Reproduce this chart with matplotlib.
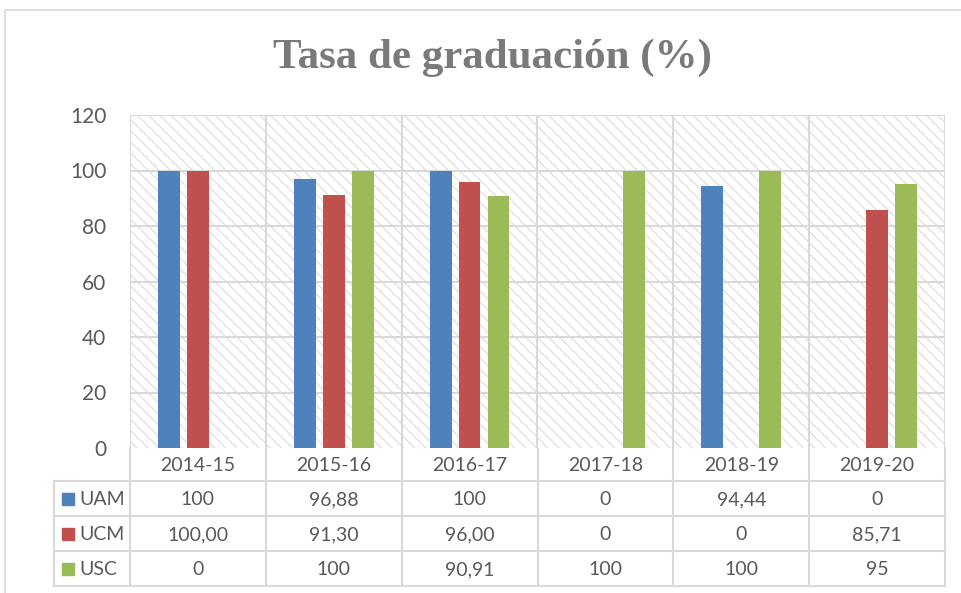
import matplotlib
matplotlib.use('Agg')
import matplotlib.pyplot as plt
from matplotlib.patches import Rectangle
import numpy as np

cursos = ['2014-15', '2015-16', '2016-17', '2017-18', '2018-19', '2019-20']
uam = [100, 96.88, 100, 0, 94.44, 0]
ucm = [100.00, 91.30, 96.00, 0, 0, 85.71]
usc = [0, 100, 90.91, 100, 100, 95]
uam_txt = ['100', '96,88', '100', '0', '94,44', '0']
ucm_txt = ['100,00', '91,30', '96,00', '0', '0', '85,71']
usc_txt = ['0', '100', '90,91', '100', '100', '95']
series = ['UAM', 'UCM', 'USC']
colores = ['#4F81BD', '#C0504D', '#9BBB59']

plt.rcParams['font.family'] = ['Lato', 'DejaVu Sans']
plt.rcParams['hatch.linewidth'] = 1.0
gris = '#595959'
linea = '#D9D9D9'

W, H = 961, 593
fig = plt.figure(figsize=(W / 100, H / 100), dpi=100)

# marco exterior del grafico
bg = fig.add_axes([0, 0, 1, 1])
bg.set_xlim(0, W)
bg.set_ylim(H, 0)
bg.axis('off')
bg.add_patch(Rectangle((5, 10), 1000, 1000, fill=False, edgecolor=linea, lw=1.2))

# area de trazado
L, R, T, B = 130, 945, 115, 448
ax = fig.add_axes([L / W, 1 - B / H, (R - L) / W, (B - T) / H])
x = np.arange(len(cursos))
ax.set_xlim(-0.5, len(cursos) - 0.5)
ax.set_ylim(0, 120)
ax.add_patch(Rectangle((-0.5, 0), len(cursos), 120, facecolor='white', edgecolor='#E2E2E2',
                       lw=0, hatch='\\\\\\', zorder=0))
for y in range(20, 121, 20):
    ax.axhline(y, color=linea, lw=1.5, zorder=1)
for xv in np.arange(-0.5, len(cursos), 1):
    ax.axvline(xv, color=linea, lw=1.5, zorder=1)

wb, off = 0.16, 0.213
for i, (vals, c) in enumerate(zip([uam, ucm, usc], colores)):
    ax.bar(x + (i - 1) * off, vals, width=wb, color=c, zorder=3)

ax.set_yticks(range(0, 121, 20))
ax.tick_params(axis='y', length=0, labelsize=15, labelcolor=gris, pad=17)
ax.set_xticks([])
for s in ax.spines.values():
    s.set_visible(False)

fig.text(492 / W, 1 - 58 / H, 'Tasa de graduación (%)', ha='center', va='center',
         fontsize=31, fontweight='bold', color='#7A7A7A', family=['Liberation Serif'])

# tabla de datos
filas = [448, 481, 516, 551, 586]
colw = (R - L) / len(cursos)
izq = 54
for y in filas[1:]:
    bg.plot([izq, R], [y, y], color=linea, lw=1.5)
bg.plot([izq, izq], [filas[1], filas[-1]], color=linea, lw=1.5)
for j in range(len(cursos) + 1):
    bg.plot([L + j * colw] * 2, [filas[0], filas[-1]], color=linea, lw=1.5)
for j, c in enumerate(cursos):
    bg.text(L + (j + 0.5) * colw, (filas[0] + filas[1]) / 2 + 1, c, ha='center', va='center',
            fontsize=14, color=gris)
for k, (nom, col, txts) in enumerate(zip(series, colores, [uam_txt, ucm_txt, usc_txt])):
    yc = (filas[k + 1] + filas[k + 2]) / 2
    bg.add_patch(Rectangle((62, yc - 6), 12, 12, color=col))
    bg.text(79, yc + 1, nom, ha='left', va='center', fontsize=14, color=gris)
    for j, t in enumerate(txts):
        bg.text(L + (j + 0.5) * colw, yc + 1, t, ha='center', va='center', fontsize=14, color=gris)

fig.savefig('out.png', dpi=100)
